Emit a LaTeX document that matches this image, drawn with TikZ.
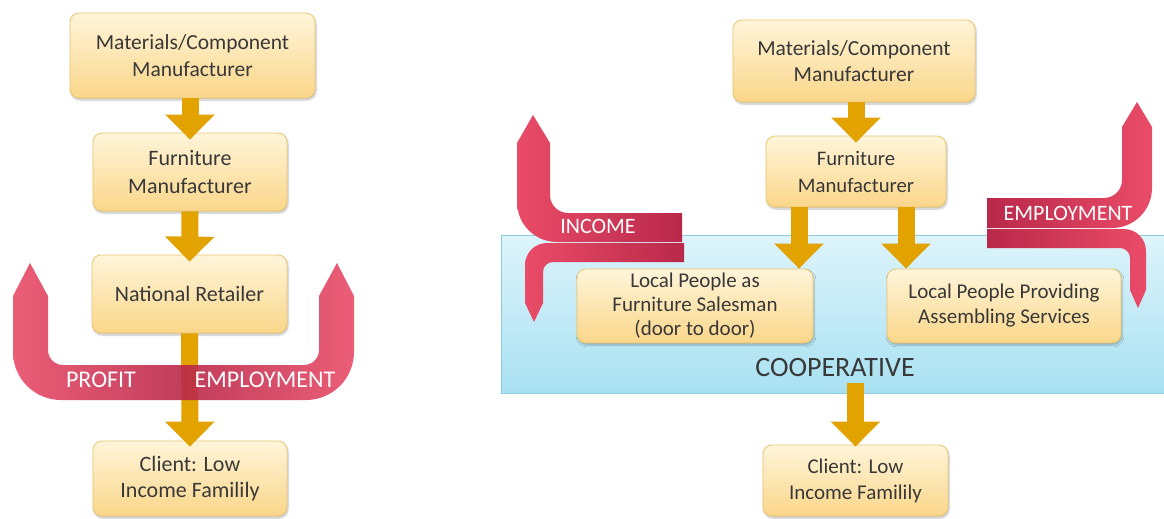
\documentclass[tikz,border=0pt]{standalone}
\usepackage{fontspec}
\setmainfont{Carlito}
\usetikzlibrary{arrows.meta,shadows.blur}

\definecolor{boxtop}{HTML}{FFF5DA}
\definecolor{boxbot}{HTML}{FAD689}
\definecolor{boxline}{HTML}{EBC46E}
\definecolor{boxtext}{HTML}{383838}
\definecolor{gold}{HTML}{E2A200}
\definecolor{redlight}{HTML}{EA4C68}
\definecolor{redmid}{HTML}{DC405E}
\definecolor{reddark}{HTML}{B9284A}
\definecolor{cyantop}{HTML}{DDF4FB}
\definecolor{cyanbot}{HTML}{A9E1F2}
\definecolor{cyanline}{HTML}{8DCCE0}

\tikzset{
  stage/.style={rectangle, rounded corners=9pt, draw=boxline, line width=0.8pt,
    top color=boxtop, bottom color=boxbot, text=boxtext, align=center, inner sep=0pt,
    blur shadow={shadow xshift=1pt, shadow yshift=-2pt, shadow blur steps=6, shadow opacity=25}},
  flow/.style={draw=gold, line width=17pt, -{Triangle[width=48pt,length=25pt]}},
  ribbon/.style={draw=none},
  ribbontext/.style={text=white, inner sep=0pt},
  coopband/.style={rectangle, draw=cyanline, line width=0.8pt, top color=cyantop, bottom color=cyanbot,
    minimum width=664pt, minimum height=158pt, inner sep=0pt},
}

\begin{document}
\begin{tikzpicture}[x=1pt, y=-1pt]
\useasboundingbox (0,0) rectangle (1164,519);

% ---------------- left chain: retail ----------------
\node[stage, minimum width=245pt, minimum height=85pt, font=\fontsize{21.5}{27}\selectfont] (m1) at (192.5,55.5) {Materials/Component\\Manufacturer};
\node[stage, minimum width=194pt, minimum height=78pt, font=\fontsize{22}{28}\selectfont] (f1) at (190,172) {Furniture\\Manufacturer};
\node[stage, minimum width=195pt, minimum height=78pt, font=\fontsize{22}{27}\selectfont] (r1) at (189.5,294) {National Retailer};
\node[stage, minimum width=194pt, minimum height=75pt, font=\fontsize{22}{26}\selectfont] (c1) at (190,478.5) {Client: Low\\Income Familily};

\draw[flow] (f1.north |- m1.south) -- ([yshift=-7pt]f1.north);
\draw[flow] (f1.south) -- ([yshift=-7pt]r1.north);
\draw[flow] (r1.south) -- ([yshift=-6pt]c1.north);

% U-shaped ribbon: profit (left half) and employment (right half)
\path[ribbon, fill opacity=0.9, left color=redlight, middle color=redmid, right color=reddark]
  (30,263) -- (48,296) -- (48,350) .. controls (48,358.3) and (54.7,365) .. (63,365)
  -- (185,365) -- (185,400) -- (61,400) .. controls (34.5,400) and (13,378.5) .. (13,352)
  -- (13,296) -- cycle;
\path[ribbon, fill opacity=0.9, left color=reddark, middle color=redmid, right color=redlight]
  (337,263) -- (319,296) -- (319,350) .. controls (319,358.3) and (312.3,365) .. (304,365)
  -- (185,365) -- (185,400) -- (306,400) .. controls (332.5,400) and (354,378.5) .. (354,352)
  -- (354,296) -- cycle;
\node[ribbontext, font=\fontsize{24}{24}\selectfont] (profit) at (101,380) {PROFIT};
\node[ribbontext, font=\fontsize{24}{24}\selectfont] (empl1) at (265,380) {EMPLOYMENT};

% ---------------- right chain: cooperative ----------------
\node[coopband] (coop) at (833,314) {};
\node[font=\fontsize{28}{28}\selectfont, text=boxtext, inner sep=0pt] (cooptext) at (835,368) {COOPERATIVE};

\node[stage, minimum width=242pt, minimum height=82pt, font=\fontsize{21.5}{26}\selectfont] (m2) at (854,61) {Materials/Component\\Manufacturer};
\node[stage, minimum width=180pt, minimum height=71pt, font=\fontsize{20.7}{27}\selectfont] (f2) at (856,171.5) {Furniture\\Manufacturer};
\node[stage, minimum width=236pt, minimum height=74pt, font=\fontsize{21}{24}\selectfont] (sales) at (695,306) {Local People as\\Furniture Salesman\\(door to door)};
\node[stage, minimum width=234pt, minimum height=74pt, font=\fontsize{21}{25}\selectfont] (assem) at (1004,306) {Local People Providing\\Assembling Services};
\node[stage, minimum width=185pt, minimum height=71pt, font=\fontsize{21}{26}\selectfont] (c2) at (855.5,480.5) {Client: Low\\Income Familily};

\coordinate (s1) at ([xshift=-57pt]f2.south);
\coordinate (s2) at ([xshift=50pt]f2.south);
\coordinate (b0) at (coop.south -| c2.north);
\draw[flow] (f2.north |- m2.south) -- ([yshift=-7pt]f2.north);
\draw[flow] (s1) -- (s1 |- sales.north);
\draw[flow] (s2) -- (s2 |- assem.north);
\draw[flow] ([yshift=10pt]b0) -- ([yshift=-2pt]c2.north);

% income ribbon, folded back on itself
\path[ribbon, left color=redlight, right color=reddark]
  (684,243) -- (547,243) .. controls (534.9,243) and (525,252.9) .. (525,265)
  -- (525,303) -- (534,322) -- (543,303) -- (543,272)
  .. controls (543,266.5) and (547.5,262) .. (553,262) -- (684,262) -- cycle;
\path[ribbon, left color=redlight, middle color=redmid, right color=reddark]
  (533,115) -- (550,143) -- (550,195) .. controls (550,204.9) and (558.1,213) .. (568,213)
  -- (682,213) -- (682,242) -- (557,242) .. controls (534.9,242) and (517,224.1) .. (517,202)
  -- (517,143) -- cycle;
\node[ribbontext, font=\fontsize{22}{22}\selectfont] (income) at (598,226) {INCOME};

% employment ribbon, folded back on itself
\path[ribbon, left color=reddark, right color=redlight]
  (987,229) -- (1124,229) .. controls (1136.1,229) and (1146,238.9) .. (1146,251)
  -- (1146,290) -- (1138,308) -- (1130,290) -- (1130,258)
  .. controls (1130,252.5) and (1125.5,248) .. (1120,248) -- (987,248) -- cycle;
\path[ribbon, left color=reddark, middle color=redmid, right color=redlight]
  (1137,102) -- (1152,127) -- (1152,188) .. controls (1152,210.1) and (1134.1,228) .. (1112,228)
  -- (987,228) -- (987,198) -- (1104,198) .. controls (1113.9,198) and (1122,189.9) .. (1122,180)
  -- (1122,127) -- cycle;
\node[ribbontext, font=\fontsize{22}{22}\selectfont] (empl2) at (1068,213) {EMPLOYMENT};

\end{tikzpicture}
\end{document}
